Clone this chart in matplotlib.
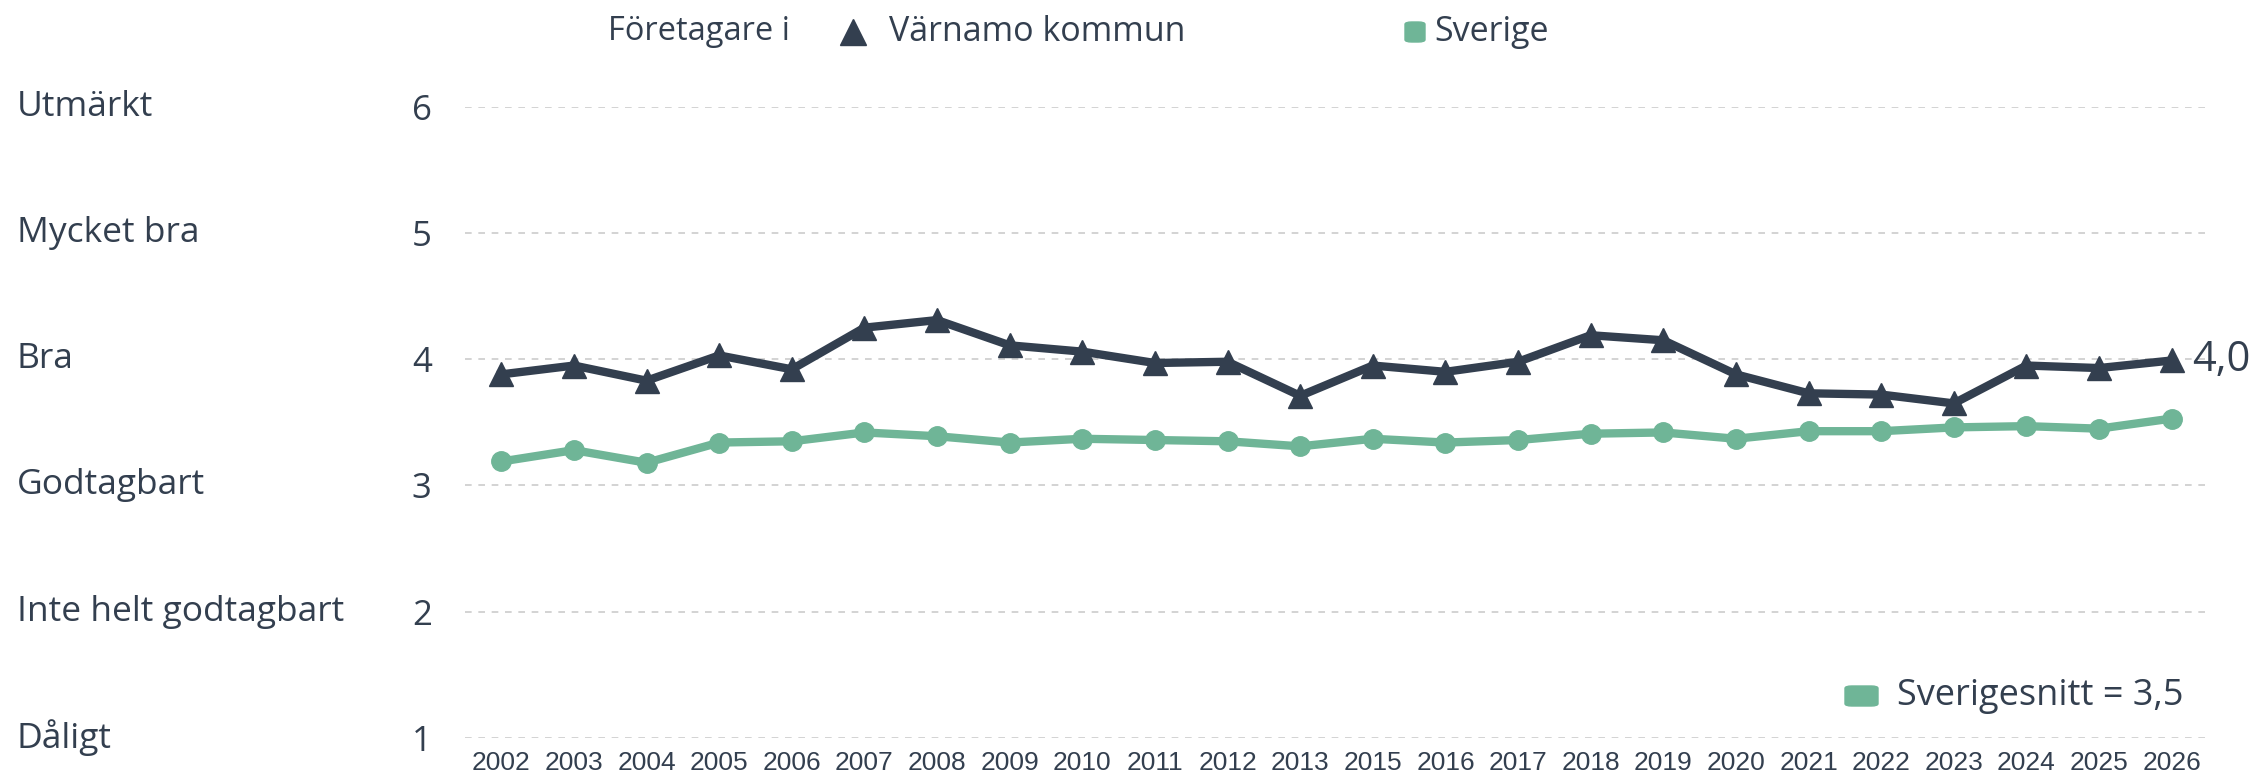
import matplotlib
matplotlib.use("Agg")
import matplotlib.pyplot as plt
from matplotlib.lines import Line2D
from matplotlib.patches import FancyBboxPatch
import matplotlib.transforms as mtransforms

years = ["2002", "2003", "2004", "2005", "2006", "2007", "2008", "2009", "2010",
         "2011", "2012", "2013", "2015", "2016", "2017", "2018", "2019", "2020",
         "2021", "2022", "2023", "2024", "2025", "2026"]
varnamo = [3.88, 3.95, 3.83, 4.03, 3.92, 4.25, 4.31, 4.11, 4.06, 3.97, 3.98, 3.71,
           3.95, 3.90, 3.98, 4.19, 4.15, 3.88, 3.73, 3.72, 3.65, 3.95, 3.93, 3.99]
sverige = [3.19, 3.28, 3.18, 3.34, 3.35, 3.42, 3.39, 3.34, 3.37, 3.36, 3.35, 3.31,
           3.37, 3.34, 3.36, 3.41, 3.42, 3.37, 3.43, 3.43, 3.46, 3.47, 3.45, 3.53]
scale_values = [1, 2, 3, 4, 5, 6]
scale_names = ["Dåligt", "Inte helt godtagbart", "Godtagbart", "Bra", "Mycket bra", "Utmärkt"]
end_label = "4,0"
avg_label = "Sverigesnitt = 3,5"

DARK = "#333f4f"
GREEN = "#6fb597"
TEXT_FONT = ["Open Sans", "DejaVu Sans"]
TICK_FONT = ["Liberation Sans", "DejaVu Sans"]

W, H = 2260, 782
fig = plt.figure(figsize=(W / 100, H / 100), dpi=100)
ax = fig.add_axes([465 / W, 1 - 738 / H, (2208 - 465) / W, (738 - 106.7) / H])

x = list(range(len(years)))
ax.plot(x, varnamo, color=DARK, lw=6, marker="^", ms=17, clip_on=False, zorder=4)
ax.plot(x, sverige, color=GREEN, lw=6, marker="o", ms=14, clip_on=False, zorder=3)

ax.set_xlim(-0.5, len(years) - 0.5)
ax.set_ylim(1, 6)
ax.set_xticks(x)
ax.set_xticklabels(years, family=TICK_FONT, fontsize=19, color=DARK)
ax.set_yticks(scale_values)
ax.set_yticklabels([str(v) for v in scale_values], family=TEXT_FONT, fontsize=25, color=DARK)
ax.tick_params(axis="x", length=0, pad=9)
ax.tick_params(axis="y", length=0, pad=24)
for side in ax.spines.values():
    side.set_visible(False)
ax.grid(axis="y", color="#cccccc", lw=1.2, linestyle=(0, (4, 4)))
ax.set_axisbelow(True)

# category names on the left
trans = mtransforms.blended_transform_factory(fig.transFigure, ax.transData)
for v, name in zip(scale_values, scale_names):
    ax.text(17 / W, v, name, transform=trans, ha="left", va="center",
            family=TEXT_FONT, fontsize=25.5, color=DARK)

# end value label
ax.annotate(end_label, (x[-1], varnamo[-1]), xytext=(15, 0), textcoords="offset points",
            ha="left", va="center", family=TEXT_FONT, fontsize=30, color=DARK)

# top legend
fig.text(608 / W, 1 - 32 / H, "Företagare i", ha="left", va="center",
         family=TEXT_FONT, fontsize=23.5, color=DARK)
fig.add_artist(Line2D([853 / W], [1 - 32 / H], marker="^", ms=19, color=DARK,
                      transform=fig.transFigure))
fig.text(889 / W, 1 - 32 / H, "Värnamo kommun", ha="left", va="center",
         family=TEXT_FONT, fontsize=24.5, color=DARK)
fig.add_artist(FancyBboxPatch((1405 / W, 1 - 42 / H), 20 / W, 20 / H,
                              boxstyle="round,pad=0,rounding_size=0.003",
                              color=GREEN, transform=fig.transFigure))
fig.text(1434 / W, 1 - 32 / H, "Sverige", ha="left", va="center",
         family=TEXT_FONT, fontsize=24.5, color=DARK)

# bottom-right average legend
fig.add_artist(FancyBboxPatch((1845 / W, 1 - 706 / H), 33 / W, 20 / H,
                              boxstyle="round,pad=0,rounding_size=0.003",
                              color=GREEN, transform=fig.transFigure))
fig.text(1897 / W, 1 - 696 / H, avg_label, ha="left", va="center",
         family=TEXT_FONT, fontsize=26, color=DARK)

fig.savefig("out.png", dpi=100, facecolor="white")
